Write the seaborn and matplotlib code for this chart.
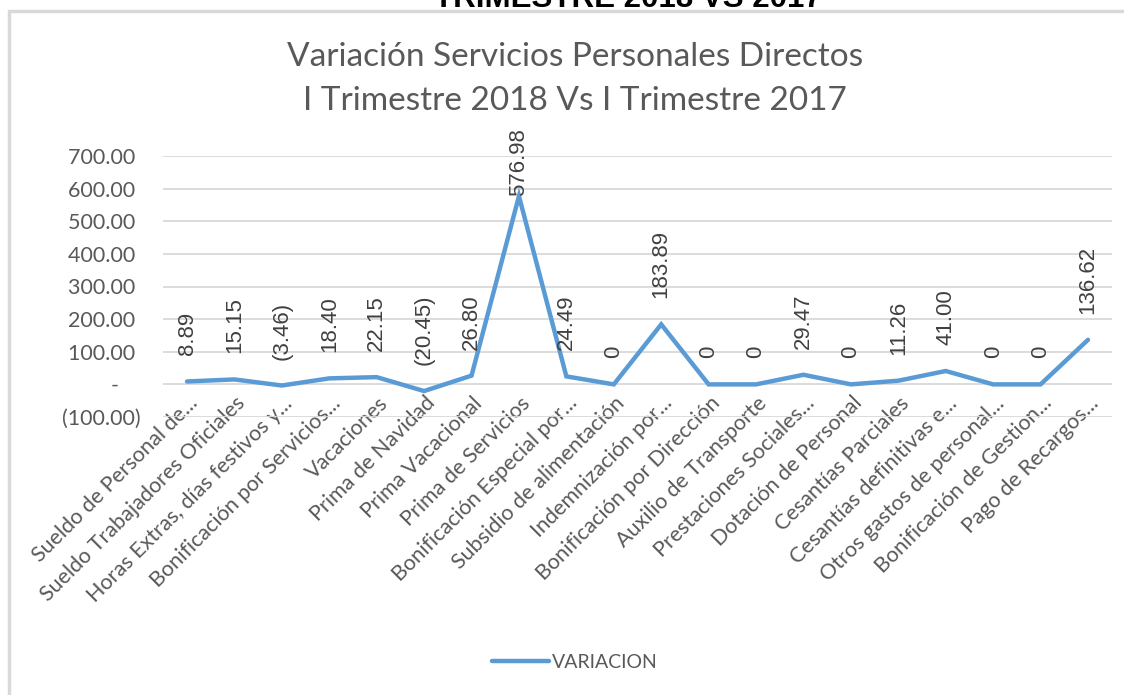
import matplotlib
matplotlib.use("Agg")
import matplotlib.pyplot as plt
import seaborn as sns
import pandas as pd
from matplotlib.ticker import FuncFormatter, MultipleLocator
from matplotlib.transforms import ScaledTranslation
from matplotlib.patches import Rectangle

# datos
rubros = [
    "Sueldo de Personal de...",
    "Sueldo Trabajadores Oficiales",
    "Horas Extras, días festivos y...",
    "Bonificación por Servicios...",
    "Vacaciones",
    "Prima de Navidad",
    "Prima Vacacional",
    "Prima de Servicios",
    "Bonificación Especial por...",
    "Subsidio de alimentación",
    "Indemnización por...",
    "Bonificación por Dirección",
    "Auxilio de Transporte",
    "Prestaciones Sociales...",
    "Dotación de Personal",
    "Cesantías Parciales",
    "Cesantías definitivas e...",
    "Otros gastos de personal...",
    "Bonificación de Gestion...",
    "Pago de Recargos...",
]
variacion = [8.89, 15.15, -3.46, 18.40, 22.15, -20.45, 26.80, 576.98, 24.49, 0,
             183.89, 0, 0, 29.47, 0, 11.26, 41.00, 0, 0, 136.62]

encabezado = "TRIMESTRE 2018 VS 2017"
titulo = ["Variación Servicios Personales Directos",
          "I Trimestre 2018 Vs I Trimestre 2017"]
serie = "VARIACION"

AZUL = "#5B9BD5"
GRIS = "#595959"


def fmt_eje(v, pos):
    # formato contable de Excel
    if abs(v) < 1e-9:
        return "-    "
    if v < 0:
        return f"({abs(v):,.2f})"
    return f"{v:,.2f} "


def fmt_etiqueta(v):
    if v == 0:
        return "0"
    if v < 0:
        return f"({abs(v):,.2f})"
    return f"{v:,.2f}"


sns.set_theme(style="white")
plt.rcParams["font.family"] = ["Lato", "DejaVu Sans"]

W, H = 1124, 695
fig = plt.figure(figsize=(W / 100, H / 100), dpi=100)
ax = fig.add_axes([163.3 / W, 1 - 417 / H, (1111.7 - 163.3) / W, 261 / H])

df = pd.DataFrame({"rubro": rubros, "valor": variacion})
sns.lineplot(data=df, x="rubro", y="valor", sort=False, color=AZUL,
             linewidth=3.2, ax=ax, legend=False)
ax.lines[0].set_solid_capstyle("round")
ax.lines[0].set_solid_joinstyle("miter")

ax.set_xlim(-0.5, len(rubros) - 0.5)
ax.set_ylim(-100, 700)
ax.yaxis.set_major_locator(MultipleLocator(100))
ax.yaxis.set_major_formatter(FuncFormatter(fmt_eje))
ax.grid(axis="y", color="#D9D9D9", linewidth=1.3)
ax.grid(axis="x", visible=False)
for s in ax.spines.values():
    s.set_visible(False)
ax.set_xlabel("")
ax.set_ylabel("")
ax.tick_params(axis="y", length=0, pad=16, labelsize=15.5, labelcolor=GRIS)
ax.tick_params(axis="x", length=0, pad=0)

ax.set_xticks(range(len(rubros)))
ax.set_xticklabels(rubros, rotation=45, ha="right", va="center",
                   rotation_mode="anchor", fontsize=15.5, color=GRIS)
desplaza = ScaledTranslation(0.08, 0.17, fig.dpi_scale_trans)
for lbl in ax.get_xticklabels():
    lbl.set_transform(lbl.get_transform() + desplaza)

# etiquetas de datos verticales
techo = 1.107  # límite superior de las etiquetas (fracción del eje)
for i, v in enumerate(variacion):
    if v == max(variacion):
        ax.annotate(fmt_etiqueta(v), xy=(i, techo), xycoords=("data", "axes fraction"),
                    rotation=90, ha="center", va="top", fontsize=16,
                    color="#404040", family=["Liberation Sans"], annotation_clip=False)
    else:
        ax.annotate(fmt_etiqueta(v), xy=(i, v), xytext=(0, 26),
                    textcoords="offset pixels", rotation=90, ha="center",
                    va="bottom", fontsize=16, color="#404040",
                    family=["Liberation Sans"], annotation_clip=False)

# título del gráfico
fig.text(575 / W, 1 - 57 / H, titulo[0], ha="center", va="center",
         fontsize=24, color=GRIS)
fig.text(575 / W, 1 - 101 / H, titulo[1], ha="center", va="center",
         fontsize=24, color=GRIS)

# encabezado cortado arriba
fig.text(628 / W, 1 - 7 / H, encabezado, ha="center", va="baseline",
         fontsize=22.5, fontweight="bold", color="black",
         family=["Liberation Sans"])

# marco del área del gráfico
fig.patches.append(Rectangle((9 / W, -0.05), 1.2, 1 - 11 / H + 0.05,
                             transform=fig.transFigure, fill=False,
                             edgecolor="#D9D9D9", linewidth=2.5))

fig.legend([ax.lines[0]], [serie], loc="center",
           bbox_to_anchor=(575 / W, 1 - 662 / H), frameon=False,
           fontsize=14, handlelength=2.9, handletextpad=0.15,
           labelcolor=GRIS)

fig.savefig("out.png", dpi=100)
